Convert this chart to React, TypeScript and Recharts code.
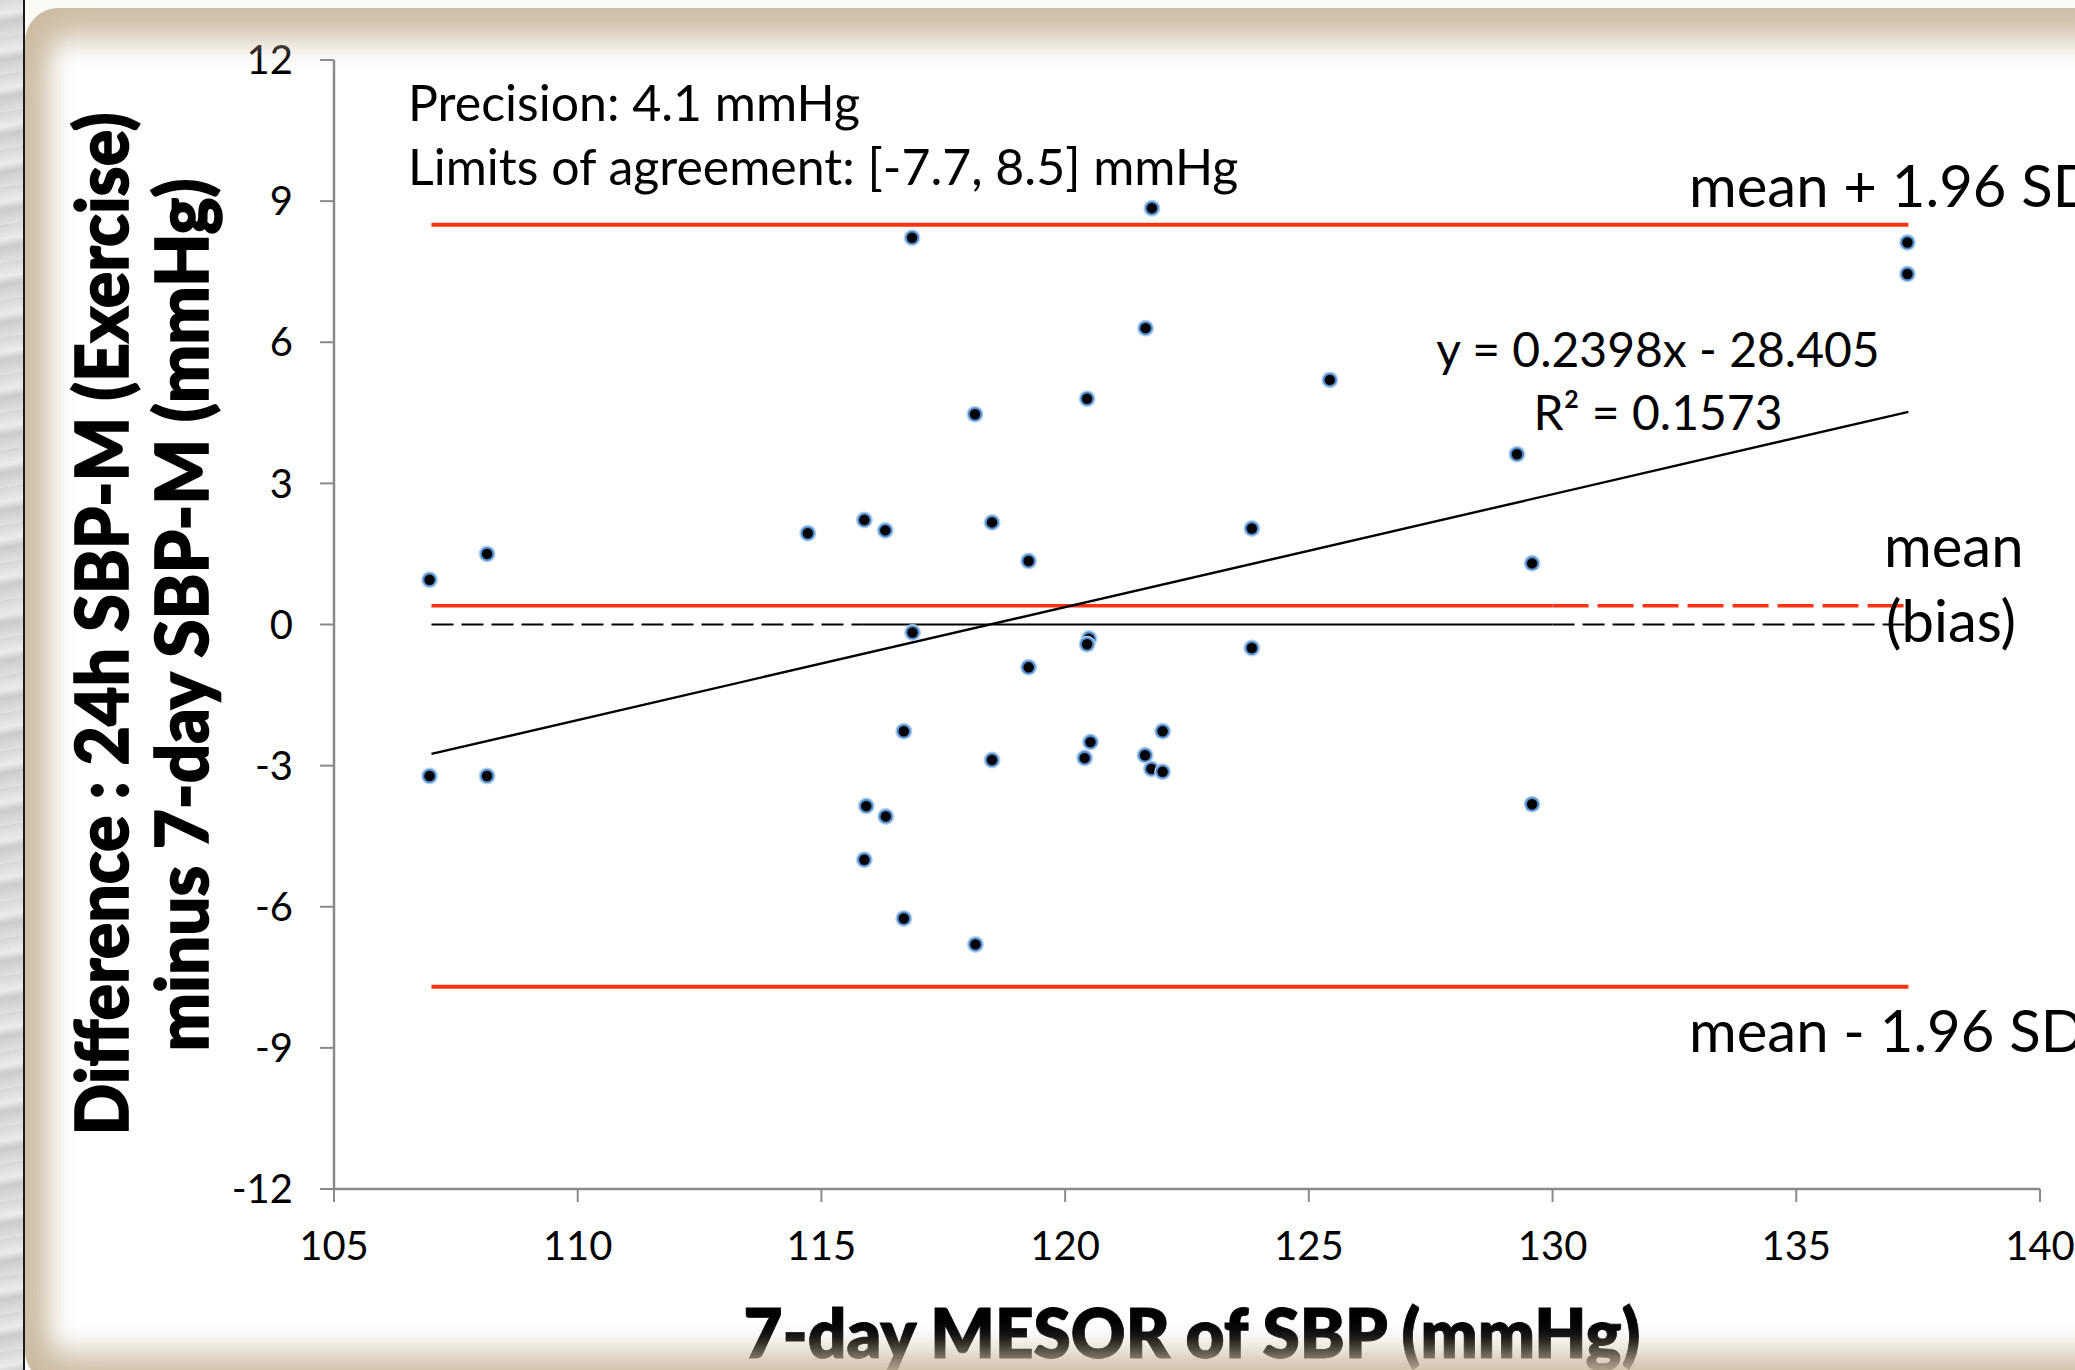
import React from "react";
import { ScatterChart, Scatter, XAxis, YAxis } from "recharts";

// axis ticks
const xTicks = [105, 110, 115, 120, 125, 130, 135, 140];
const yTicks = [-12, -9, -6, -3, 0, 3, 6, 9, 12];

// 7-day MESOR of SBP (x) and difference 24h - 7-day (y)
const mesor = [
  106.96, 108.14, 106.96, 108.14, 114.72, 115.88, 116.31, 116.86, 116.87, 116.69,
  115.92, 116.32, 115.88, 116.69, 118.15, 118.5, 118.5, 118.16, 119.25, 119.25,
  120.45, 120.49, 120.45, 120.52, 120.4, 121.65, 121.78, 121.64, 121.77, 122.0,
  122.0, 123.83, 123.83, 125.43, 129.27, 129.58, 129.58, 137.28, 137.28,
];
const diff = [
  0.95, 1.5, -3.22, -3.22, 1.94, 2.22, 2.0, 8.22, -0.17, -2.27,
  -3.86, -4.08, -5.0, -6.25, 4.47, 2.17, -2.88, -6.8, 1.35, -0.91,
  4.8, -0.3, -0.42, -2.5, -2.84, 6.3, 8.85, -2.78, -3.07, -2.27,
  -3.13, 2.04, -0.5, 5.2, 3.62, 1.3, -3.82, 8.12, 7.45,
];

// reference levels
const upperLoA = 8.5;
const lowerLoA = -7.7;
const bias = 0.4;
const lineFrom = 107;
const lineTo = 137.3;
const solidTo = 130;
const zeroSolidFrom = 115.85;

// regression line end points (y = 0.2398x - 28.405)
const trendX = [107, 137.3];
const trendY = [-2.75, 4.52];

const points = mesor.map((x, i) => ({ x, y: diff[i] }));
const seg = (x1: number, x2: number, y: number) => [
  { x: x1, y },
  { x: x2, y },
];
const trendLine = trendX.map((x, i) => ({ x, y: trendY[i] }));

const RED = "#ff3311";
const AXIS = "#8a8a8a";
const FONT = "Lato, 'Open Sans', sans-serif";
const BEIGE = "rgba(203,188,162,0.95)";

const noShape = () => <g />;

const Marker = (props: any) => {
  const { cx, cy } = props;
  if (cx == null || cy == null) return <g />;
  return (
    <g>
      <circle cx={cx} cy={cy} r={8.5} fill="#b4d0ee" />
      <circle cx={cx} cy={cy} r={7} fill="#4f8ccc" />
      <circle cx={cx} cy={cy} r={5.2} fill="#000" />
    </g>
  );
};

export default function App() {
  return (
    <div
      style={{
        position: "absolute",
        left: 0,
        top: 0,
        width: 2075,
        height: 1370,
        overflow: "hidden",
        background: "#fbfaf7",
      }}
    >
      <div
        style={{
          position: "absolute",
          left: 0,
          top: 0,
          width: 23,
          height: 1370,
          background:
            "repeating-linear-gradient(170deg, #d6d6d6 0px, #ebebeb 14px, #cbcbcb 22px, #e0e0e0 37px)",
        }}
      />
      <div style={{ position: "absolute", left: 23, top: 0, width: 2, height: 1370, background: "#1a1a1a" }} />
      <div
        style={{
          position: "absolute",
          left: 25,
          top: 8,
          width: 2100,
          height: 1376,
          background: "#fff",
          borderRadius: 34,
        }}
      />

      <div style={{ position: "absolute", left: 0, top: 0 }}>
        <ScatterChart width={2075} height={1370} margin={{ top: 60, right: 35, bottom: 81, left: 0 }}>
          <XAxis
            type="number"
            dataKey="x"
            domain={[105, 140]}
            ticks={xTicks}
            interval={0}
            height={100}
            tickSize={13}
            tickMargin={30}
            axisLine={{ stroke: AXIS, strokeWidth: 2.5 }}
            tickLine={{ stroke: AXIS, strokeWidth: 2 }}
            tick={{ fill: "#000", fontSize: 40, fontFamily: FONT }}
            allowDataOverflow
          />
          <YAxis
            type="number"
            dataKey="y"
            domain={[-12, 12]}
            ticks={yTicks}
            interval={0}
            width={334}
            tickSize={14}
            tickMargin={27}
            axisLine={{ stroke: AXIS, strokeWidth: 2.5 }}
            tickLine={{ stroke: AXIS, strokeWidth: 2 }}
            tick={{ fill: "#000", fontSize: 40, fontFamily: FONT }}
            allowDataOverflow
          />
          <Scatter data={seg(lineFrom, lineTo, upperLoA)} line={{ stroke: RED, strokeWidth: 4 }} shape={noShape} isAnimationActive={false} />
          <Scatter data={seg(lineFrom, lineTo, lowerLoA)} line={{ stroke: RED, strokeWidth: 4 }} shape={noShape} isAnimationActive={false} />
          <Scatter data={seg(lineFrom, solidTo, bias)} line={{ stroke: RED, strokeWidth: 3.5 }} shape={noShape} isAnimationActive={false} />
          <Scatter
            data={seg(solidTo, lineTo, bias)}
            line={{ stroke: RED, strokeWidth: 3.5, strokeDasharray: "36 9" }}
            shape={noShape}
            isAnimationActive={false}
          />
          <Scatter
            data={seg(lineFrom, zeroSolidFrom, 0)}
            line={{ stroke: "#000", strokeWidth: 2.2, strokeDasharray: "22 8" }}
            shape={noShape}
            isAnimationActive={false}
          />
          <Scatter data={seg(zeroSolidFrom, solidTo, 0)} line={{ stroke: "#000", strokeWidth: 2.2 }} shape={noShape} isAnimationActive={false} />
          <Scatter
            data={seg(solidTo, lineTo, 0)}
            line={{ stroke: "#000", strokeWidth: 2.2, strokeDasharray: "22 8" }}
            shape={noShape}
            isAnimationActive={false}
          />
          <Scatter data={trendLine} line={{ stroke: "#000", strokeWidth: 2.4 }} shape={noShape} isAnimationActive={false} />
          <Scatter data={points} shape={Marker} isAnimationActive={false} />
        </ScatterChart>
      </div>

      <svg
        width={2075}
        height={1370}
        style={{ position: "absolute", left: 0, top: 0, pointerEvents: "none" }}
        fontFamily={FONT}
      >
        <text x={408} y={121} fontSize={50} fill="#000">
          Precision: 4.1 mmHg
        </text>
        <text x={408} y={185} fontSize={50} fill="#000">
          Limits of agreement: [-7.7, 8.5] mmHg
        </text>
        <text x={1658} y={367} fontSize={48} fill="#000" textAnchor="middle">
          y = 0.2398x - 28.405
        </text>
        <text x={1658} y={430} fontSize={48} fill="#000" textAnchor="middle">
          R² = 0.1573
        </text>
        <text x={1689} y={207} fontSize={58} fill="#000">
          mean + 1.96 SD
        </text>
        <text x={1884} y={567} fontSize={58} fill="#000">
          mean
        </text>
        <text x={1886} y={642} fontSize={58} fill="#000">
          (bias)
        </text>
        <text x={1689} y={1052} fontSize={58} fill="#000">
          mean - 1.96 SD
        </text>
        <text
          transform="translate(128, 624) rotate(-90)"
          fontSize={72}
          fontWeight={900}
          fill="#000"
          stroke="#000"
          strokeWidth={1.6}
          textAnchor="middle"
          textLength={1023}
          lengthAdjust="spacingAndGlyphs"
        >
          Difference : 24h SBP-M (Exercise)
        </text>
        <text
          transform="translate(208, 615) rotate(-90)"
          fontSize={72}
          fontWeight={900}
          fill="#000"
          stroke="#000"
          strokeWidth={1.6}
          textAnchor="middle"
          textLength={873}
          lengthAdjust="spacingAndGlyphs"
        >
          minus 7-day SBP-M (mmHg)
        </text>
        <text
          x={1192}
          y={1358}
          fontSize={68}
          fontWeight={800}
          fill="#000"
          stroke="#000"
          strokeWidth={0.8}
          textAnchor="middle"
          textLength={897}
          lengthAdjust="spacingAndGlyphs"
        >
          7-day MESOR of SBP (mmHg)
        </text>
      </svg>

      <div
        style={{
          position: "absolute",
          left: 25,
          top: 8,
          width: 2100,
          height: 1376,
          borderRadius: 34,
          pointerEvents: "none",
          boxShadow: `inset 0 46px 30px -14px ${BEIGE}, inset 36px 0 26px -12px ${BEIGE}, inset 0 -44px 30px -12px ${BEIGE}`,
        }}
      />
    </div>
  );
}
